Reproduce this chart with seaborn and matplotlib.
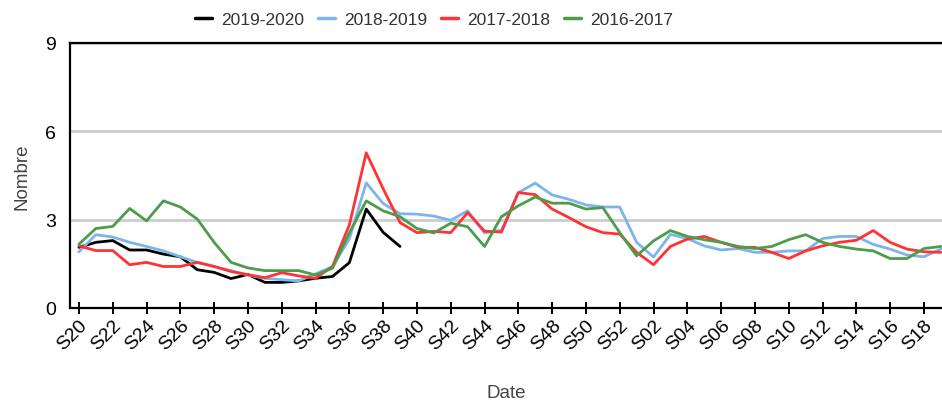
import numpy as np
import pandas as pd
import seaborn as sns
import matplotlib
matplotlib.use("Agg")
import matplotlib.pyplot as plt

# weeks from S20 to S19 of the next year
weeks = ["S20", "S21", "S22", "S23", "S24", "S25", "S26", "S27", "S28", "S29",
         "S30", "S31", "S32", "S33", "S34", "S35", "S36", "S37", "S38", "S39",
         "S40", "S41", "S42", "S43", "S44", "S45", "S46", "S47", "S48", "S49",
         "S50", "S51", "S52", "S01", "S02", "S03", "S04", "S05", "S06", "S07",
         "S08", "S09", "S10", "S11", "S12", "S13", "S14", "S15", "S16", "S17",
         "S18", "S19"]

seasons = ["2019-2020", "2018-2019", "2017-2018", "2016-2017"]
colors = ["#000000", "#7cb5ec", "#ff3333", "#4c9c4c"]

s2019 = [2.06, 2.23, 2.29, 1.97, 1.97, 1.83, 1.74, 1.30, 1.21, 1.00,
         1.14, 0.87, 0.87, 0.92, 1.01, 1.07, 1.54, 3.36, 2.57, 2.09]

s2018 = [1.91, 2.49, 2.41, 2.23, 2.09, 1.94, 1.74, 1.55, 1.41, 1.27,
         1.12, 1.01, 0.96, 0.92, 1.16, 1.40, 2.35, 4.25, 3.55, 3.20,
         3.19, 3.12, 2.98, 3.30, 2.55, 2.64, 3.92, 4.24, 3.84, 3.69,
         3.50, 3.43, 3.43, 2.23, 1.73, 2.50, 2.36, 2.11, 1.97, 2.02,
         1.89, 1.89, 1.94, 1.94, 2.36, 2.43, 2.43, 2.16, 2.00, 1.80,
         1.74, 2.00]

s2017 = [2.11, 1.95, 1.95, 1.47, 1.55, 1.41, 1.41, 1.55, 1.41, 1.24,
         1.13, 1.03, 1.20, 1.09, 1.01, 1.41, 2.82, 5.27, 4.05, 2.90,
         2.56, 2.60, 2.56, 3.24, 2.61, 2.58, 3.92, 3.85, 3.36, 3.07,
         2.76, 2.56, 2.51, 1.89, 1.47, 2.09, 2.34, 2.43, 2.23, 2.06,
         2.06, 1.89, 1.68, 1.94, 2.11, 2.23, 2.30, 2.63, 2.23, 2.00,
         1.91, 1.89]

s2016 = [2.17, 2.70, 2.77, 3.38, 2.96, 3.64, 3.43, 3.02, 2.23, 1.55,
         1.36, 1.27, 1.27, 1.27, 1.12, 1.35, 2.55, 3.64, 3.30, 3.10,
         2.70, 2.55, 2.88, 2.76, 2.09, 3.10, 3.47, 3.77, 3.56, 3.56,
         3.36, 3.41, 2.56, 1.77, 2.28, 2.63, 2.43, 2.32, 2.23, 2.09,
         2.02, 2.09, 2.32, 2.49, 2.23, 2.09, 2.00, 1.94, 1.68, 1.68,
         2.02, 2.09]

# long format table for seaborn
rows = []
for name, vals in zip(seasons, [s2019, s2018, s2017, s2016]):
    for i, v in enumerate(vals):
        rows.append({"idx": i, "season": name, "value": v})
df = pd.DataFrame(rows)

sns.set_theme(style="white")
plt.rcParams["font.family"] = ["Liberation Sans", "DejaVu Sans"]

fig = plt.figure(figsize=(9.42, 4.06), dpi=100)
ax = fig.add_axes([70 / 942, 97 / 406, 872 / 942, 265 / 406])

sns.lineplot(data=df, x="idx", y="value", hue="season", hue_order=seasons,
             palette=colors, linewidth=2.0, ax=ax)

ax.set_xlim(-0.53, 51.07)
ax.set_ylim(0, 9)
ax.set_yticks([0, 3, 6, 9])
ax.set_xticks(range(0, len(weeks), 2))
ax.set_xticklabels(weeks[::2], rotation=45, ha="right", rotation_mode="anchor")
ax.yaxis.grid(True, color="#cccccc", linewidth=2)
ax.set_axisbelow(True)

for side in ["left", "bottom", "top"]:
    ax.spines[side].set_color("black")
    ax.spines[side].set_linewidth(1.6)
ax.spines["right"].set_visible(False)

ax.tick_params(axis="x", direction="inout", length=8, width=1.4, color="black",
               labelsize=14, labelcolor="black", pad=2, bottom=True)
ax.tick_params(axis="y", length=0, labelsize=14, labelcolor="black", pad=10)

ax.set_xlabel("Date", fontsize=13.5, color="#444444")
ax.set_ylabel("Nombre", fontsize=13.5, color="#444444")
ax.xaxis.set_label_coords(0.5, (309 - 394) / 265)
ax.yaxis.set_label_coords((22 - 70) / 872, 0.5)
ax.xaxis.label.set_va("center")
ax.yaxis.label.set_va("center")

handles, labels = ax.get_legend_handles_labels()
ax.get_legend().remove()
leg = fig.legend(handles, labels, loc="center", bbox_to_anchor=(434 / 942, 1 - 20 / 406),
                 ncol=4, frameon=False, fontsize=12.5, handlelength=1.0,
                 handletextpad=0.5, columnspacing=0.8)
for t in leg.get_texts():
    t.set_color("#333333")
for h in leg.legend_handles:
    h.set_linewidth(2.5)

fig.savefig("out.png", dpi=100)
